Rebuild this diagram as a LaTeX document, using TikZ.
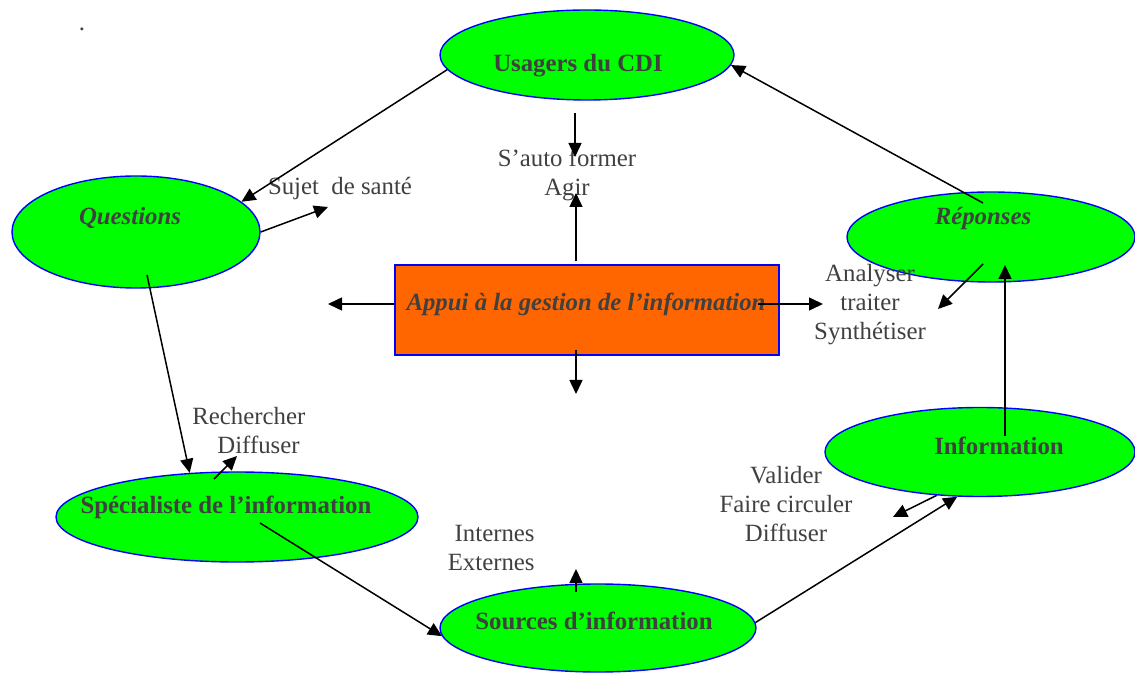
\documentclass[tikz,border=0pt]{standalone}
\usepackage{fontspec}
\setmainfont{Liberation Serif}
\usetikzlibrary{arrows.meta,shapes.geometric}
\definecolor{cdivert}{RGB}{0,255,0}
\definecolor{cdiorange}{RGB}{255,102,0}
\definecolor{cdigris}{RGB}{64,64,64}

\begin{document}
\begin{tikzpicture}[x=.5pt,y=-.5pt,font=\fontsize{12.4}{14.5}\selectfont,>={Triangle[length=7pt,width=6.5pt]},
    bulle/.style={ellipse,draw=blue,fill=cdivert,line width=.7pt,inner sep=0pt},
    mot/.style={text=cdigris,inner sep=0pt,align=center},
    fl/.style={->,line width=.75pt}]
  \useasboundingbox (0,0) rectangle (1135,673);
  % bulles et cadre central
  \node[bulle,minimum width=147pt,minimum height=45pt] (usagers) at (587,55) {};
  \node[bulle,minimum width=124pt,minimum height=56pt] (questions) at (136,232) {};
  \node[bulle,minimum width=144pt,minimum height=45pt] (reponses) at (991,237) {};
  \node[bulle,minimum width=155pt,minimum height=44.5pt] (information) at (980,452) {};
  \node[bulle,minimum width=181pt,minimum height=45pt] (specialiste) at (237,517) {};
  \node[bulle,minimum width=158pt,minimum height=44pt] (sources) at (598,628) {};
  \node[draw=blue,fill=cdiorange,line width=.7pt,minimum width=192pt,minimum height=45pt] (appui) at (587,310) {};
  % titres
  \node[mot,anchor=base] (tusagers) at (578,72) {\textbf{Usagers du CDI}};
  \node[mot,anchor=base] (tquestions) at (130,225) {\textbf{\textit{Questions}}};
  \node[mot,anchor=base] (treponses) at (983,225) {\textbf{\textit{Réponses}}};
  \node[mot,anchor=base] (tappui) at (586,311) {\textbf{\textit{Appui à la gestion de l’information}}};
  \node[mot,anchor=base] (tinformation) at (999,454) {\textbf{Information}};
  \node[mot,anchor=base] (tspecialiste) at (226,513) {\textbf{Spécialiste de l’information}};
  \node[mot,anchor=base] (tsources) at (594,629) {\textbf{Sources d’information}};
  \node[mot,anchor=base] (point) at (82,31) {.};
  % verbes
  \node[mot] (tformer) at (567,175) {S’auto former\\Agir};
  \node[mot,anchor=base] (tsujet) at (340,195) {Sujet\ \ de santé};
  \node[mot] (tanalyser) at (870,305) {Analyser\\traiter\\Synthétiser};
  \node[mot,align=left,anchor=west] (trechercher) at (192,431) {Rechercher\\\hspace*{12.5pt}Diffuser};
  \node[mot,align=right,anchor=east] (tinternes) at (535,548) {Internes\\Externes};
  \node[mot] (tvalider) at (786,504) {Valider\\Faire circuler\\Diffuser};
  % extremites libres
  \coordinate (sq) at (328,207);
  \coordinate (u1) at (575,113); \coordinate (u2) at (575,157);
  \coordinate (a1) at (576,193); \coordinate (a2) at (328,304);
  \coordinate (a3) at (823,304); \coordinate (a4) at (576,394);
  \coordinate (r1) at (983,203); \coordinate (r2) at (983,264); \coordinate (r3) at (938,309);
  \coordinate (i1) at (1005,436); \coordinate (i2) at (1005,265);
  \coordinate (q1) at (147,275);
  \coordinate (s1) at (214,479); \coordinate (s2) at (237,456); \coordinate (s3) at (260,523);
  \coordinate (o1) at (576,592); \coordinate (o2) at (576,569);
  \coordinate (v1) at (893,517);
  % fleches
  \draw[fl] (usagers.186) -- (questions.16);
  \draw[fl] (questions.east) -- (sq);
  \draw[fl] (u1) -- (u2);
  \draw[fl] ([xshift=-5.5pt,yshift=1.5pt]appui.north) -- (a1);
  \draw[fl] ([yshift=3pt]appui.west) -- (a2);
  \draw[fl] ([xshift=-11pt,yshift=3pt]appui.east) -- (a3);
  \draw[fl] ([xshift=-5.5pt,yshift=3pt]appui.south) -- (a4);
  \draw[fl] (r1) -- (usagers.-4);
  \draw[fl] (r2) -- (r3);
  \draw[fl] (i1) -- (i2);
  \draw[fl] (q1) -- (specialiste.137);
  \draw[fl] (s1) -- (s2);
  \draw[fl] (s3) -- (sources.183);
  \draw[fl] (o1) -- (o2);
  \draw[fl] (sources.2) -- (information.243);
  \draw[fl] (information.225) -- (v1);
\end{tikzpicture}
\end{document}
